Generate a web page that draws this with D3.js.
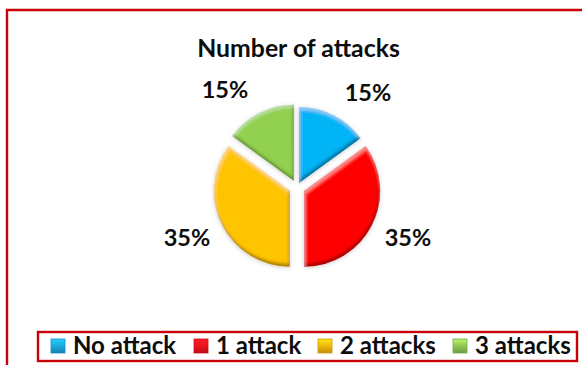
<!DOCTYPE html>
<html><head><meta charset="utf-8">
<script src="https://cdnjs.cloudflare.com/ajax/libs/d3/7.8.5/d3.min.js"></script>
<style>html,body{margin:0;padding:0;background:#fff}svg{display:block}text{font-family:Lato,"Open Sans",sans-serif;font-weight:700;fill:#0d0d0d}</style>
</head><body><svg id="c" width="582" height="365"></svg>
<script>
const categories = ["No attack","1 attack","2 attacks","3 attacks"];
const values = [15,35,35,15];
const colors = ["#00B4F5","#FF0000","#FFC400","#92D050"];
const swatchColors = ["#1BA3DC","#E8141C","#EDB30C","#8CC152"];
const labels = ["15%","35%","35%","15%"];
const title = "Number of attacks";

const svg = d3.select("#c");
const defs = svg.append("defs");
const f = defs.append("filter").attr("id","bevel").attr("x","-20%").attr("y","-20%").attr("width","140%").attr("height","140%");
f.append("feGaussianBlur").attr("in","SourceAlpha").attr("stdDeviation",2.2).attr("result","b");
f.append("feOffset").attr("in","b").attr("dx",0).attr("dy",1).attr("result","so");
f.append("feFlood").attr("flood-color","#000").attr("flood-opacity",0.2).attr("result","fl");
f.append("feComposite").attr("in","fl").attr("in2","so").attr("operator","in").attr("result","shadow");
f.append("feOffset").attr("in","SourceAlpha").attr("dx",-1).attr("dy",-3).attr("result","off");
f.append("feGaussianBlur").attr("in","off").attr("stdDeviation",1.5).attr("result","offb");
f.append("feComposite").attr("in","SourceAlpha").attr("in2","offb").attr("operator","out").attr("result","edge");
f.append("feFlood").attr("flood-color","#000").attr("flood-opacity",0.6).attr("result","dk");
f.append("feComposite").attr("in","dk").attr("in2","edge").attr("operator","in").attr("result","dark");
f.append("feOffset").attr("in","SourceAlpha").attr("dx",1).attr("dy",3).attr("result","off2");
f.append("feGaussianBlur").attr("in","off2").attr("stdDeviation",1.5).attr("result","off2b");
f.append("feComposite").attr("in","SourceAlpha").attr("in2","off2b").attr("operator","out").attr("result","edge2");
f.append("feFlood").attr("flood-color","#fff").attr("flood-opacity",0.28).attr("result","lt");
f.append("feComposite").attr("in","lt").attr("in2","edge2").attr("operator","in").attr("result","light");
const m = f.append("feMerge");
["shadow","SourceGraphic","dark","light"].forEach(n=>m.append("feMergeNode").attr("in",n));

categories.forEach((c,i)=>{
  const g = defs.append("linearGradient").attr("id","sw"+i).attr("x1",0).attr("y1",0).attr("x2",0).attr("y2",1);
  g.append("stop").attr("offset","0%").attr("stop-color",d3.color(swatchColors[i]).brighter(0.7));
  g.append("stop").attr("offset","55%").attr("stop-color",swatchColors[i]);
  g.append("stop").attr("offset","100%").attr("stop-color",d3.color(swatchColors[i]).darker(0.6));
});

svg.append("path").attr("d","M7 365V10H582").attr("fill","none").attr("stroke","#C8000A").attr("stroke-width",2.4);

svg.append("text").attr("x",298.5).attr("y",57).attr("text-anchor","middle").attr("font-size",24.8).text(title);

const R = 76, cx = 297, cy = 187;
const explode = [4.5,8,8,7];
const pie = d3.pie().sort(null)(values);
const arc = d3.arc().innerRadius(0).outerRadius(R);
const slices = svg.append("g").attr("transform",`translate(${cx},${cy})`);
slices.selectAll("path").data(pie).join("path")
  .attr("d",arc).attr("fill",(d,i)=>colors[i]).attr("filter","url(#bevel)")
  .attr("transform",(d,i)=>{const a=(d.startAngle+d.endAngle)/2;return `translate(${Math.sin(a)*explode[i]},${-Math.cos(a)*explode[i]})`;});

const labelOffsets = [[71,-86],[111,59],[-110,59],[-72,-89]];
slices.selectAll("text").data(pie).join("text")
  .attr("text-anchor","middle").attr("font-size",23.5)
  .attr("x",(d,i)=>labelOffsets[i][0]).attr("y",(d,i)=>labelOffsets[i][1])
  .text((d,i)=>labels[i]);

svg.append("rect").attr("x",38).attr("y",332).attr("width",539).attr("height",29).attr("fill","#fff").attr("stroke","#C8000A").attr("stroke-width",2.4);
const swatchX = [51,194,318,453];
const lg = svg.selectAll("g.l").data(categories).join("g").attr("class","l").attr("transform",(d,i)=>`translate(${swatchX[i]},339)`);
lg.append("rect").attr("width",14).attr("height",14).attr("fill",(d,i)=>`url(#sw${i})`).attr("stroke",(d,i)=>d3.color(swatchColors[i]).darker(0.4)).attr("stroke-width",.8);
lg.append("text").attr("x",22).attr("y",15).attr("font-size",24).text(d=>d);
</script></body></html>
